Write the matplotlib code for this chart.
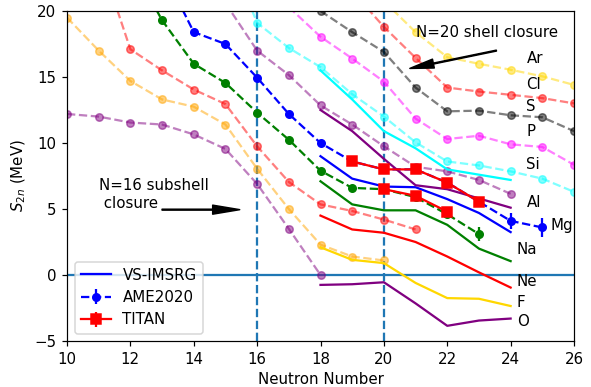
import numpy as np
import matplotlib
matplotlib.use('Agg')
import matplotlib.pyplot as plt

# AME2020 S2n values (MeV), per isotopic chain
N_O = [10, 11, 12, 13, 14, 15, 16, 17, 18]
ame_O = [12.2, 12.0, 11.55, 11.4, 10.65, 9.55, 6.9, 3.5, 0.0]
N_F = [10, 11, 12, 13, 14, 15, 16, 17, 18, 19, 20]
ame_F = [19.5, 17.0, 14.7, 13.3, 12.75, 11.4, 8.05, 5.0, 2.3, 1.4, 1.1]
N_Ne = [11, 12, 13, 14, 15, 16, 17, 18, 19, 20, 21]
ame_Ne = [24.3, 17.1, 15.5, 14.05, 12.95, 9.75, 7.05, 5.35, 4.85, 4.2, 3.45]
N_Na = [12, 13, 14, 15, 16, 17, 18, 19, 20, 21, 22, 23]
ame_Na = [23.7, 19.3, 16.0, 14.55, 12.3, 10.25, 7.9, 6.6, 6.5, 5.9, 4.6, 3.1]
err_Na = [0, 0, 0, 0, 0, 0, 0, 0, 0, 0, 0, 0.55]
N_Mg = [13, 14, 15, 16, 17, 18, 19, 20, 21, 22, 23, 24, 25]
ame_Mg = [23.2, 18.4, 17.5, 14.95, 12.2, 10.0, 8.6, 8.0, 8.0, 7.0, 5.55, 4.1, 3.6]
err_Mg = [0, 0, 0, 0, 0, 0, 0, 0, 0, 0, 0, 0.6, 0.75]
N_Al = [15, 16, 17, 18, 19, 20, 21, 22, 23, 24]
ame_Al = [20.6, 17.0, 15.15, 12.85, 11.4, 9.75, 8.2, 7.85, 7.2, 6.15]
N_Si = [15, 16, 17, 18, 19, 20, 21, 22, 23, 24, 25, 26]
ame_Si = [25.0, 19.1, 17.2, 15.75, 13.7, 12.0, 10.05, 8.6, 8.3, 7.85, 7.3, 6.3]
N_P = [17, 18, 19, 20, 21, 22, 23, 24, 25, 26]
ame_P = [20.3, 18.05, 16.4, 14.65, 11.85, 10.3, 10.55, 9.9, 9.7, 8.35]
N_S = [18, 19, 20, 21, 22, 23, 24, 25, 26]
ame_S = [20.0, 18.4, 16.9, 14.2, 12.4, 12.45, 12.1, 11.95, 10.9]
N_Cl = [19, 20, 21, 22, 23, 24, 25, 26]
ame_Cl = [21.5, 18.8, 16.45, 14.2, 13.9, 13.65, 13.4, 13.0]
N_Ar = [20, 21, 22, 23, 24, 25, 26]
ame_Ar = [20.75, 18.4, 16.5, 16.0, 15.55, 15.05, 14.4]

# VS-IMSRG
N_th = [18, 19, 20, 21, 22, 23, 24]
th_O = [-0.75, -0.7, -0.55, -2.15, -3.85, -3.45, -3.3]
th_F = [2.1, 1.15, 0.9, -0.6, -1.75, -1.8, -2.35]
th_Ne = [4.5, 3.45, 3.2, 2.5, 1.4, 0.2, -0.95]
th_Na = [7.1, 5.35, 4.9, 4.9, 3.8, 2.0, 1.05]
th_Mg = [9.0, 7.3, 6.7, 6.65, 5.75, 4.7, 3.25]
th_Al = [12.5, 10.9, 8.8, 6.8, 6.5, 5.8, 5.1]
th_Si = [15.5, 13.3, 10.9, 9.6, 8.0, 7.6, 7.2]

# TITAN
N_titan_Mg = [19, 20, 21, 22, 23]
titan_Mg = [8.6, 8.0, 8.0, 7.0, 5.55]
N_titan_Na = [20, 21, 22]
titan_Na = [6.5, 6.0, 4.8]

labels = ['Ar', 'Cl', 'S', 'P', 'Si', 'Al', 'Mg', 'Na', 'Ne', 'F', 'O']
label_x = [24.5, 24.5, 24.5, 24.5, 24.5, 24.5, 25.25, 24.2, 24.2, 24.2, 24.2]
label_y = [16.4, 14.4, 12.8, 10.9, 8.4, 5.5, 3.75, 1.9, -0.5, -2.05, -3.55]

fig = plt.figure(figsize=(591/108, 387/108), dpi=108)
ax = fig.add_axes([67/591, 1-341/387, 507/591, 330/387])

ax.axhline(0, color='C0')
ax.axvline(16, color='C0', ls='--')
ax.axvline(20, color='C0', ls='--')

ms = 5
ax.plot(N_O, ame_O, '--o', color='purple', alpha=0.5, ms=ms)
ax.plot(N_F, ame_F, '--o', color='orange', alpha=0.5, ms=ms)
ax.plot(N_Ne, ame_Ne, '--o', color='red', alpha=0.5, ms=ms)
ax.errorbar(N_Na, ame_Na, yerr=err_Na, fmt='--o', color='green', ms=ms)
ame_handle = ax.errorbar(N_Mg, ame_Mg, yerr=err_Mg, fmt='--o', color='blue', ms=ms)
ax.plot(N_Al, ame_Al, '--o', color='purple', alpha=0.5, ms=ms)
ax.plot(N_Si, ame_Si, '--o', color='cyan', alpha=0.5, ms=ms)
ax.plot(N_P, ame_P, '--o', color='magenta', alpha=0.5, ms=ms)
ax.plot(N_S, ame_S, '--o', color='black', alpha=0.5, ms=ms)
ax.plot(N_Cl, ame_Cl, '--o', color='red', alpha=0.5, ms=ms)
ax.plot(N_Ar, ame_Ar, '--o', color='gold', alpha=0.5, ms=ms)

ax.plot(N_th, th_O, color='purple')
ax.plot(N_th, th_F, color='gold')
ax.plot(N_th, th_Ne, color='red')
ax.plot(N_th, th_Na, color='green')
th_handle, = ax.plot(N_th, th_Mg, color='blue')
ax.plot(N_th, th_Al, color='purple')
ax.plot(N_th, th_Si, color='cyan')

titan_handle = ax.errorbar(N_titan_Mg, titan_Mg, yerr=0.1, fmt='-s', color='red', ms=7)
ax.errorbar(N_titan_Na, titan_Na, yerr=0.1, fmt='-s', color='red', ms=7)

for lab, x, y in zip(labels, label_x, label_y):
    ax.text(x, y, lab, va='center', ha='left')

ax.text(21.0, 18.4, 'N=20 shell closure', va='center')
ax.annotate('', xy=(20.82, 15.65), xytext=(23.55, 17.0),
            arrowprops=dict(facecolor='black', width=0.6, headwidth=6, headlength=16))
ax.text(11.0, 6.1, 'N=16 subshell\n closure', va='center')
ax.annotate('', xy=(15.45, 4.95), xytext=(13.0, 4.95),
            arrowprops=dict(facecolor='black', width=0.6, headwidth=6, headlength=18))

ax.legend([th_handle, ame_handle, titan_handle], ['VS-IMSRG', 'AME2020', 'TITAN'], loc='lower left')

ax.set_xlim(10, 26)
ax.set_ylim(-5, 20)
ax.set_xticks(range(10, 27, 2))
ax.set_yticks(range(-5, 21, 5))
ax.set_xlabel('Neutron Number')
ax.set_ylabel('$S_{2n}$ (MeV)')

fig.savefig('out.png', dpi=108)
